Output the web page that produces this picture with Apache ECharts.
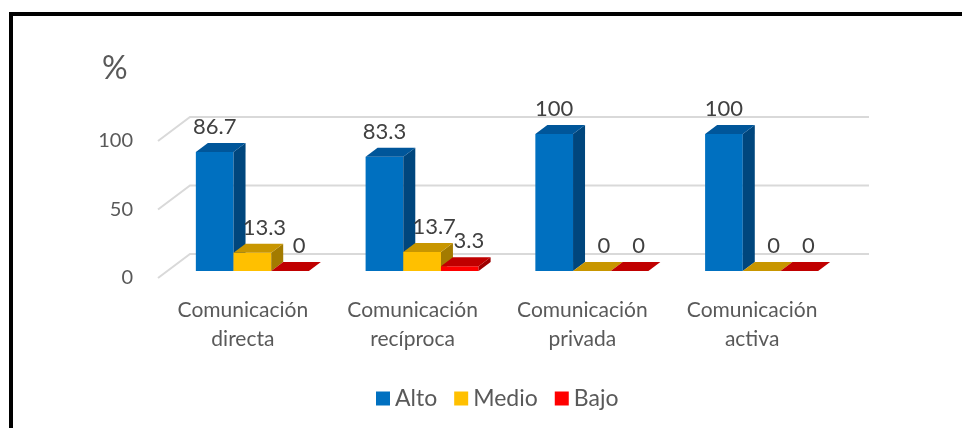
<!DOCTYPE html>
<html lang="es">
<head>
<meta charset="UTF-8">
<title>Comunicación</title>
<script src="https://cdn.jsdelivr.net/npm/echarts@6/dist/echarts.min.js"></script>
<style>
  body{margin:0;padding:0;background:#fff;}
  #chart{width:962px;height:428px;}
</style>
</head>
<body>
<div id="chart"></div>
<script>
// datos
var categories = ['Comunicación\ndirecta', 'Comunicación\nrecíproca', 'Comunicación\nprivada', 'Comunicación\nactiva'];
var alto = [86.7, 83.3, 100, 100];
var medio = [13.3, 13.7, 0, 0];
var bajo = [0, 3.3, 0, 0];
var yTicks = [0, 50, 100];

var FONT = 'Lato';
var TXT = '#595959';

// pseudo 3D: floor depth and bar depth (px), y goes up 0.75 per px of depth
var FLOOR_D = 32, BAR_OFF = 9.5, BAR_D = 12;

var faces = [
  {front: '#0070C0', top: '#00569A', side: '#00467D'},
  {front: '#FFC000', top: '#C89600', side: '#A37B00'},
  {front: '#FF0000', top: '#C00000', side: '#9E0000'}
];
var labelDx = [0, 12, 9];

function barRender(idx) {
  var f = faces[idx];
  return function (params, api) {
    var cat = api.value(0), val = api.value(1);
    var base = api.coord([cat, 0]);
    var top = api.coord([cat, val]);
    var band = api.size([1, 0])[0];
    var bw = band * 0.222;
    var x0 = base[0] - 1.5 * bw + idx * bw + BAR_OFF;
    var yb = base[1] - BAR_OFF * 0.75, yt = top[1] - BAR_OFF * 0.75;
    var sx = BAR_D, sy = -BAR_D * 0.75;
    return {
      type: 'group',
      children: [
        {type: 'polygon', shape: {points: [[x0, yb], [x0 + bw, yb], [x0 + bw, yt], [x0, yt]]}, style: {fill: f.front}},
        {type: 'polygon', shape: {points: [[x0 + bw, yb], [x0 + bw + sx, yb + sy], [x0 + bw + sx, yt + sy], [x0 + bw, yt]]}, style: {fill: f.side}},
        {type: 'polygon', shape: {points: [[x0, yt], [x0 + bw, yt], [x0 + bw + sx, yt + sy], [x0 + sx, yt + sy]]}, style: {fill: f.top}},
        {type: 'text', x: x0 + bw / 2 + labelDx[idx], y: yt - 25,
          style: {text: String(val), fill: '#404040', fontSize: 22, fontFamily: FONT, align: 'center', verticalAlign: 'middle'}}
      ]
    };
  };
}

function gridRender(params, api) {
  var cs = params.coordSys;
  var y = api.coord([0, api.value(1)])[1];
  var dy = FLOOR_D * 0.75;
  return {
    type: 'polyline',
    shape: {points: [[cs.x, y], [cs.x + FLOOR_D, y - dy], [cs.x + cs.width + FLOOR_D, y - dy]]},
    style: {stroke: '#D9D9D9', lineWidth: 2, fill: null}
  };
}

function toPairs(arr) {
  return arr.map(function (v, i) { return [i, v]; });
}

var chart = echarts.init(document.getElementById('chart'));
chart.setOption({
  animation: false,
  grid: {left: 158, right: 125, top: 141, bottom: 150},
  xAxis: {
    type: 'category',
    data: categories,
    axisLine: {show: false},
    axisTick: {show: false},
    axisLabel: {interval: 0, margin: 18, lineHeight: 29, fontSize: 21, color: TXT, fontFamily: FONT}
  },
  yAxis: {
    type: 'value',
    min: 0, max: 100, interval: 50,
    axisLine: {show: false},
    axisTick: {show: false},
    splitLine: {show: false},
    axisLabel: {margin: 25, fontSize: 20, color: TXT, fontFamily: FONT}
  },
  legend: {
    data: ['Alto', 'Medio', 'Bajo'],
    left: 371, top: 382,
    icon: 'rect', itemWidth: 14, itemHeight: 14, itemGap: 17,
    textStyle: {fontSize: 23, color: TXT, fontFamily: FONT}
  },
  graphic: [
    {type: 'rect', shape: {x: 11, y: 14, width: 1000, height: 500}, style: {fill: null, stroke: '#000', lineWidth: 4}},
    {type: 'text', left: 102, top: 53, style: {text: '%', fontSize: 32, fill: TXT, fontFamily: FONT}}
  ],
  series: [
    {type: 'custom', name: 'grid', data: yTicks.map(function (v) { return [0, v]; }), renderItem: gridRender, silent: true, z: 1, clip: false},
    {type: 'custom', name: 'Alto', data: toPairs(alto), renderItem: barRender(0), itemStyle: {color: faces[0].front}, z: 2, clip: false},
    {type: 'custom', name: 'Medio', data: toPairs(medio), renderItem: barRender(1), itemStyle: {color: faces[1].front}, z: 2, clip: false},
    {type: 'custom', name: 'Bajo', data: toPairs(bajo), renderItem: barRender(2), itemStyle: {color: faces[2].front}, z: 2, clip: false}
  ]
});
</script>
</body>
</html>
